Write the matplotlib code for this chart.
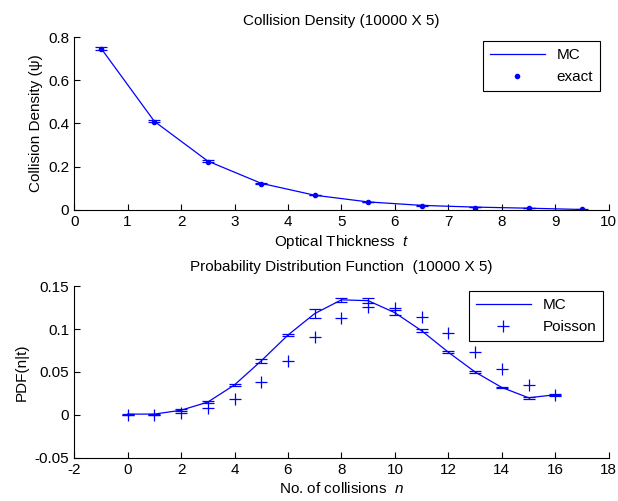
import matplotlib
matplotlib.use("Agg")
import matplotlib.pyplot as plt
from matplotlib.lines import Line2D

plt.rcParams['font.family'] = ['Liberation Sans', 'DejaVu Sans']
plt.rcParams['font.size'] = 11
plt.rcParams['axes.unicode_minus'] = False
plt.rcParams['mathtext.fontset'] = 'custom'
plt.rcParams['mathtext.it'] = 'Liberation Sans:italic'
plt.rcParams['mathtext.rm'] = 'Liberation Sans'

# collision density vs optical thickness
t = [0.5, 1.5, 2.5, 3.5, 4.5, 5.5, 6.5, 7.5, 8.5, 9.5]
psi_mc = [0.749, 0.410, 0.226, 0.123, 0.068, 0.037, 0.021, 0.013, 0.008, 0.002]
psi_err = [0.007, 0.004, 0.003, 0.002, 0.001, 0.001, 0.001, 0.001, 0.001, 0.001]
psi_exact = [0.744, 0.406, 0.224, 0.122, 0.067, 0.037, 0.020, 0.011, 0.007, 0.002]

# pdf of number of collisions
n = list(range(17))
pdf_mc = [0.001, 0.001, 0.0055, 0.015, 0.035, 0.063, 0.093, 0.118, 0.134, 0.133,
          0.119, 0.098, 0.073, 0.050, 0.032, 0.020, 0.0235]
pdf_err = [0.0005, 0.0005, 0.001, 0.001, 0.001, 0.002, 0.001, 0.005, 0.002, 0.003,
           0.003, 0.002, 0.001, 0.001, 0.001, 0.001, 0.001]
poisson = [0.0, 0.0005, 0.0023, 0.0076, 0.019, 0.038, 0.063, 0.091, 0.113, 0.126,
           0.125, 0.114, 0.095, 0.073, 0.053, 0.035, 0.023]

fig = plt.figure(figsize=(6.18, 5.01), dpi=100)


def style(ax):
    ax.spines['top'].set_visible(False)
    ax.spines['right'].set_visible(False)
    ax.tick_params(direction='in', length=4, width=0.8)


def add_legend(ax, handles, labels, anchor):
    leg = ax.legend(handles, labels, loc='upper right', fancybox=False,
                    edgecolor='black', framealpha=1, borderpad=0.45,
                    handlelength=3.6, handletextpad=0.8, labelspacing=0.55,
                    bbox_to_anchor=anchor, borderaxespad=0)
    leg.get_frame().set_linewidth(0.8)


ax1 = fig.add_axes([0.12, 0.581, 0.865, 0.345])
ax1.errorbar(t, psi_mc, yerr=psi_err, color='blue', lw=0.9, capsize=4,
             capthick=0.9, elinewidth=0.9)
ax1.plot(t, psi_exact, '.', color='blue', ms=6)
ax1.set_xlim(0, 10)
ax1.set_ylim(0, 0.8)
ax1.set_xticks(range(11))
ax1.set_yticks([0, 0.2, 0.4, 0.6, 0.8])
ax1.set_yticklabels(['0', '0.2', '0.4', '0.6', '0.8'])
ax1.set_title('Collision Density (10000 X 5)', fontsize=11, pad=9)
ax1.set_xlabel('Optical Thickness  $t$', labelpad=3)
ax1.set_ylabel('Collision Density (ψ)')
style(ax1)
add_legend(ax1,
           [Line2D([], [], color='blue', lw=0.9),
            Line2D([], [], ls='none', marker='.', color='blue', ms=6)],
           ['MC', 'exact'], (0.984, 0.977))

ax2 = fig.add_axes([0.12, 0.086, 0.865, 0.343])
ax2.errorbar(n, pdf_mc, yerr=pdf_err, color='blue', lw=0.9, capsize=4,
             capthick=0.9, elinewidth=0.9)
ax2.plot(n, poisson, '+', color='blue', ms=9, mew=0.9)
ax2.set_xlim(-2, 18)
ax2.set_ylim(-0.05, 0.15)
ax2.set_xticks(range(-2, 19, 2))
ax2.set_yticks([-0.05, 0, 0.05, 0.1, 0.15])
ax2.set_yticklabels(['-0.05', '0', '0.05', '0.1', '0.15'])
ax2.set_title('Probability Distribution Function  (10000 X 5)', fontsize=11, pad=11)
ax2.set_xlabel('No. of collisions  $n$', labelpad=3)
ax2.set_ylabel('PDF(n|t)')
style(ax2)
add_legend(ax2,
           [Line2D([], [], color='blue', lw=0.9),
            Line2D([], [], ls='none', marker='+', color='blue', ms=9, mew=0.9)],
           ['MC', 'Poisson'], (0.99, 0.971))

fig.savefig('out.png', dpi=100)
